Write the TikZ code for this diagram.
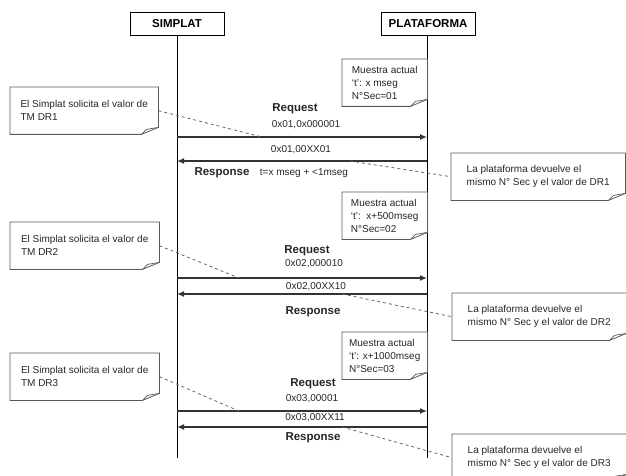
\documentclass[tikz,border=0pt]{standalone}
\usepackage{fontspec}
\setmainfont{Liberation Sans}
\usetikzlibrary{arrows.meta}
\tikzset{
  actor/.style={draw=black, line width=0.9pt, minimum width=94pt, minimum height=23pt, inner sep=0pt, font=\fontsize{11.5}{13}\selectfont\bfseries},
  lifeline/.style={draw=black, line width=0.9pt},
  notetext/.style={inner sep=0pt, align=left, font=\fontsize{10}{13}\selectfont, text=black!85},
  notebox/.style={inner sep=0pt, minimum width=#1, minimum height=47pt},
  noteline/.style={draw=black!65, line width=0.8pt, fill=white},
  msg/.style={draw=black!80, line width=1.3pt, -{Latex[length=7pt,width=6pt]}},
  msgback/.style={draw=black!80, line width=1.5pt, -{Latex[length=7pt,width=6pt]}},
  link/.style={draw=black!60, line width=0.8pt, dash pattern=on 3pt off 3pt},
  lbl/.style={inner sep=0pt, font=\fontsize{10}{12}\selectfont, text=black!85},
  blbl/.style={inner sep=0pt, font=\fontsize{11.5}{13}\selectfont\bfseries, text=black!85},
}
\newcommand{\foldnote}[1]{%
  \draw[noteline] (#1.north west) -- (#1.north east) -- ([yshift=7pt]#1.south east)
    -- ([xshift=-17pt]#1.south east) -- (#1.south west) -- cycle;
  \draw[draw=black!65, line width=0.7pt] ([xshift=-17pt]#1.south east)
    -- ([xshift=-12pt,yshift=5pt]#1.south east) -- ([yshift=7pt]#1.south east);}
\begin{document}
\begin{tikzpicture}[x=1pt, y=-1pt]
\useasboundingbox (0,0) rectangle (626,476);
\clip (0,0) rectangle (626,476);
% actors
\node[actor] (simplat) at (177,23.5) {SIMPLAT};
\node[actor] (plat) at (428,23.5) {PLATAFORMA};
\coordinate (sEnd) at (177,458);
\coordinate (pEnd) at (427,458);
\draw[lifeline] (simplat.south -| sEnd) -- (sEnd);
\draw[lifeline] (plat.south -| pEnd) -- (pEnd);

% ---------- section 1 ----------
\node[notebox=85pt, anchor=north west] (m1) at (342,59) {};
\foldnote{m1}
\node[notetext] (m1t) at (m1.center) {Muestra actual\\‘t’: x mseg\\N°Sec=01};

\node[notebox=148pt, anchor=north west] (l1) at (10,87) {};
\foldnote{l1}
\node[notetext] (l1t) at (l1.center) {El Simplat solicita el valor de\\TM DR1};

\node[notebox=174pt, anchor=north west] (r1) at (451,153) {};
\foldnote{r1}
\node[notetext] (r1t) at (r1.center) {La plataforma devuelve el\\mismo N° Sec y el valor de DR1};

\coordinate (s1a) at (177,137); \coordinate (p1a) at (427,137);
\coordinate (s1b) at (177,161); \coordinate (p1b) at (427,161);
\draw[msg] (s1a) -- (p1a);
\draw[msgback] (p1b) -- (s1b);
\node[blbl] (req1) at (295,109) {Request};
\node[lbl] (rq1) at (306,125) {0x01,0x000001};
\node[lbl] (rs1) at (301,150) {0x01,00XX01};
\node[blbl] (resp1) at (222,173) {Response};
\node[lbl] (t1) at (304,173) {t=x mseg + <1mseg};
\coordinate (d1a) at (262,137);
\coordinate (d1b) at (350,161);
\draw[link] (l1.east) -- (d1a);
\draw[link] (d1b) -- (r1.west);

% ---------- section 2 ----------
\node[notebox=85pt, anchor=north west] (m2) at (342,192) {};
\foldnote{m2}
\node[notetext] (m2t) at (m2.center) {Muestra actual\\‘t’:\ \ x+500mseg\\N°Sec=02};

\node[notebox=149pt, anchor=north west] (l2) at (10,222) {};
\foldnote{l2}
\node[notetext] (l2t) at (l2.center) {El Simplat solicita el valor de\\TM DR2};

\node[notebox=174pt, anchor=north west] (r2) at (452,293) {};
\foldnote{r2}
\node[notetext] (r2t) at (r2.center) {La plataforma devuelve el\\mismo N° Sec y el valor de DR2};

\coordinate (s2a) at (177,278); \coordinate (p2a) at (427,278);
\coordinate (s2b) at (177,294); \coordinate (p2b) at (427,294);
\draw[msg] (s2a) -- (p2a);
\draw[msgback] (p2b) -- (s2b);
\node[blbl] (req2) at (307,251) {Request};
\node[lbl] (rq2) at (314,264) {0x02,000010};
\node[lbl] (rs2) at (316,287) {0x02,00XX10};
\node[blbl] (resp2) at (313,312) {Response};
\coordinate (d2a) at (239,278);
\coordinate (d2b) at (342,294);
\draw[link] (l2.east) -- (d2a);
\draw[link] (d2b) -- (r2.west);

% ---------- section 3 ----------
\node[notebox=85pt, anchor=north west] (m3) at (342,332) {};
\foldnote{m3}
\node[notetext] (m3t) at (m3.center) {Muestra actual\\‘t’: x+1000mseg\\N°Sec=03};

\node[notebox=149pt, anchor=north west] (l3) at (10,353) {};
\foldnote{l3}
\node[notetext] (l3t) at (l3.center) {El Simplat solicita el valor de\\TM DR3};

\node[notebox=174pt, anchor=north west] (r3) at (452,434) {};
\foldnote{r3}
\node[notetext] (r3t) at (r3.center) {La plataforma devuelve el\\mismo N° Sec y el valor de DR3};

\coordinate (s3a) at (177,411); \coordinate (p3a) at (427,411);
\coordinate (s3b) at (177,427); \coordinate (p3b) at (427,427);
\draw[msg] (s3a) -- (p3a);
\draw[msgback] (p3b) -- (s3b);
\node[blbl] (req3) at (313,384) {Request};
\node[lbl] (rq3) at (312,399) {0x03,00001};
\node[lbl] (rs3) at (315,418) {0x03,00XX11};
\node[blbl] (resp3) at (313,438) {Response};
\coordinate (d3a) at (239,411);
\coordinate (d3b) at (342,427);
\draw[link] (l3.east) -- (d3a);
\draw[link] (d3b) -- (r3.west);
\end{tikzpicture}
\end{document}
